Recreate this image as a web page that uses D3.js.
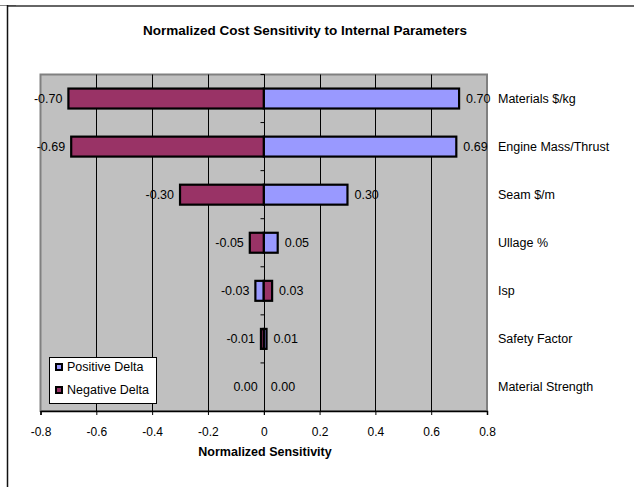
<!DOCTYPE html>
<html><head><meta charset="utf-8">
<script src="https://cdn.jsdelivr.net/npm/d3@7"></script>
<style>
body{margin:0;background:#fff;}
svg{display:block;font-family:"Liberation Sans",Arial,sans-serif;}
</style></head>
<body>
<svg id="c" width="634" height="487"></svg>
<script>
const categories = ["Materials $/kg","Engine Mass/Thrust","Seam $/m","Ullage %","Isp","Safety Factor","Material Strength"];
const positiveDelta = [0.70, 0.69, 0.30, 0.05, -0.03, 0.01, 0.00];
const negativeDelta = [-0.70, -0.69, -0.30, -0.05, 0.03, -0.01, 0.00];
const xTicks = [-0.8,-0.6,-0.4,-0.2,0,0.2,0.4,0.6,0.8];
const xTickLabels = ["-0.8","-0.6","-0.4","-0.2","0","0.2","0.4","0.6","0.8"];
const seriesNames = ["Positive Delta","Negative Delta"];
const seriesColors = ["#9999FF","#993366"];

const svg = d3.select("#c");
const L = 40.5, R = 487, T = 74.5, B = 411;

// outer frame
svg.append("line").attr("x1",0).attr("x2",16).attr("y1",5.5).attr("y2",5.5).attr("stroke","#888").attr("stroke-width",1);
svg.append("line").attr("x1",7).attr("x2",634).attr("y1",6).attr("y2",6).attr("stroke","#333").attr("stroke-width",1.5);
svg.append("line").attr("x1",7.5).attr("x2",7.5).attr("y1",5).attr("y2",487).attr("stroke","#111").attr("stroke-width",1.5);

const x = d3.scaleLinear().domain([-0.8,0.8]).range([L,R]);
const y = d3.scaleBand().domain(categories).range([T,B]).paddingInner(0.585).paddingOuter(0.2925);

// plot area
svg.append("rect").attr("x",L).attr("y",T).attr("width",R-L).attr("height",B-T)
  .attr("fill","#C0C0C0").attr("stroke","#808080").attr("stroke-width",2);

// gridlines
svg.append("g").selectAll("line").data(xTicks.filter(t=>t>-0.8 && t<0.8)).join("line")
  .attr("x1",d=>Math.round(x(d))+0.5).attr("x2",d=>Math.round(x(d))+0.5)
  .attr("y1",T).attr("y2",B).attr("stroke","#000").attr("stroke-width",1);

// x axis
const xAxis = d3.axisBottom(x).tickValues(xTicks).tickFormat((d,i)=>xTickLabels[i]).tickSize(4).tickPadding(12);
const gx = svg.append("g").attr("transform",`translate(0,${B})`).call(xAxis);
gx.select(".domain").attr("stroke","#000").attr("stroke-width",1.5);
gx.selectAll(".tick line").attr("stroke","#000");
gx.selectAll("text").attr("font-size",12).attr("font-family","Liberation Sans, Arial, sans-serif").attr("fill","#000");

// category axis at zero
const x0 = Math.round(x(0))+0.5;
svg.append("line").attr("x1",x0).attr("x2",x0).attr("y1",T).attr("y2",B+4).attr("stroke","#000").attr("stroke-width",1);
const step = y.step();
svg.append("g").selectAll("line").data(d3.range(categories.length)).join("line")
  .attr("x1",x0-4).attr("x2",x0).attr("y1",(d)=>T+d*step).attr("y2",(d)=>T+d*step)
  .attr("stroke","#000");

// bars
const series = [positiveDelta, negativeDelta];
series.forEach((vals,si)=>{
  svg.append("g").selectAll("rect").data(vals).join("rect")
    .attr("x",d=>Math.min(x(0),x(d)))
    .attr("width",d=>Math.abs(x(d)-x(0)))
    .attr("y",(d,i)=>y(categories[i]))
    .attr("height",y.bandwidth())
    .attr("fill",seriesColors[si]).attr("stroke","#000").attr("stroke-width",2.2);
});

// value labels
const loc = d3.formatLocale({decimal:".",thousands:",",grouping:[3],currency:["$",""],minus:"-"});
const fmt = loc.format(".2f");
series.forEach((vals,si)=>{
  svg.append("g").selectAll("text").data(vals).join("text")
    .attr("x",d=>{const left = d<0 || (d===0 && si===1); return left ? x(d)-6 : x(d)+7;})
    .attr("text-anchor",d=>{const left = d<0 || (d===0 && si===1); return left ? "end":"start";})
    .attr("y",(d,i)=>y(categories[i])+y.bandwidth()/2)
    .attr("dy","0.35em").attr("font-size",12.5).attr("fill","#000")
    .text(d=>fmt(d));
});

// category labels on right
svg.append("g").selectAll("text").data(categories).join("text")
  .attr("x",498).attr("y",d=>y(d)+y.bandwidth()/2).attr("dy","0.35em")
  .attr("font-size",12.5).attr("fill","#000").text(d=>d);

// title
svg.append("text").attr("x",305).attr("y",35).attr("text-anchor","middle")
  .attr("font-size",13.5).attr("font-weight","bold").text("Normalized Cost Sensitivity to Internal Parameters");
svg.append("text").attr("x",265).attr("y",456).attr("text-anchor","middle")
  .attr("font-size",12.5).attr("font-weight","bold").text("Normalized Sensitivity");

// legend
const lg = svg.append("g");
lg.append("rect").attr("x",49.5).attr("y",357.5).attr("width",107).attr("height",46).attr("fill","#fff").attr("stroke","#000");
seriesNames.forEach((n,i)=>{
  const yy = 367 + i*23;
  lg.append("rect").attr("x",56).attr("y",yy-3).attr("width",6).attr("height",6)
    .attr("fill",seriesColors[i]).attr("stroke","#000").attr("stroke-width",2);
  lg.append("text").attr("x",67).attr("y",yy).attr("dy","0.35em").attr("font-size",12.5).text(n);
});
</script>
</body></html>
